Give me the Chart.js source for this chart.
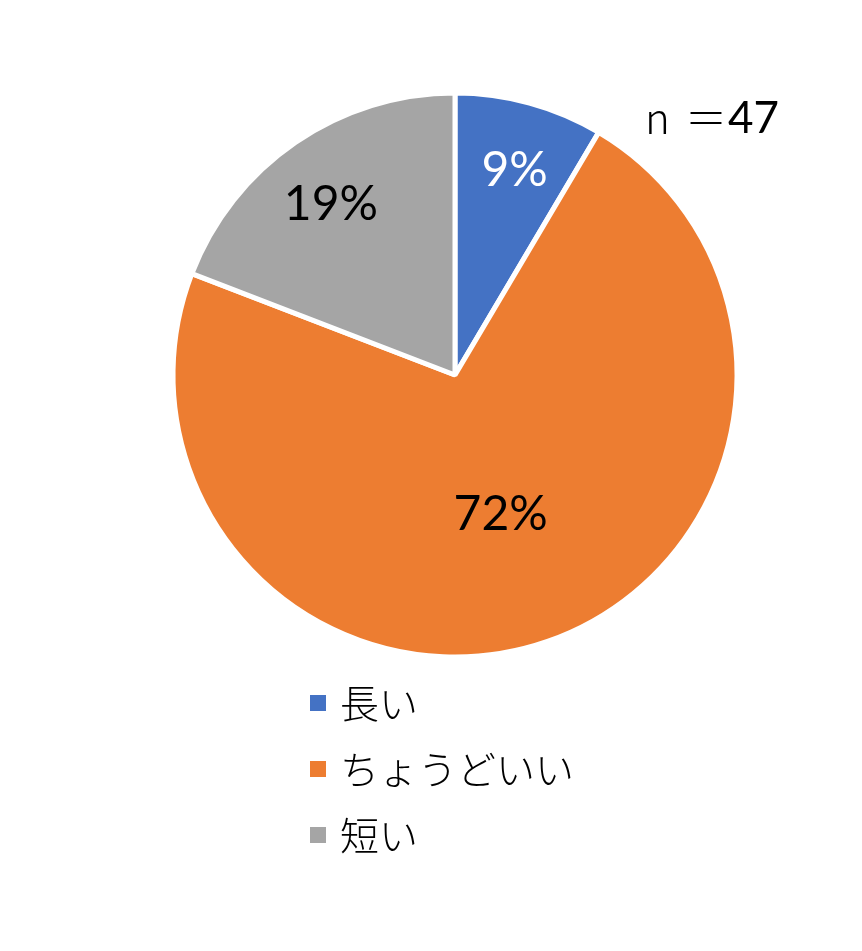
<!DOCTYPE html>
<html>
<head>
<meta charset="utf-8">
<script src="https://cdn.jsdelivr.net/npm/chart.js@4/dist/chart.umd.min.js"></script>
<style>
  body { margin: 0; background: #fff; }
</style>
</head>
<body>
<canvas id="grafico" width="862" height="951"></canvas>
<script>
const categorias = ['長い', 'ちょうどいい', '短い'];
const respuestas = [4, 34, 9];
const colores = ['#4472C4', '#ED7D31', '#A5A5A5'];
const nota = ['n', '＝', '47'];

const total = respuestas.reduce((a, b) => a + b, 0);

// etiquetas de porcentaje dentro de cada sector
const etiquetas = {
  id: 'etiquetas',
  afterDatasetsDraw(chart, args, opts) {
    const ctx = chart.ctx;
    const meta = chart.getDatasetMeta(0);
    ctx.save();
    ctx.font = '48px Lato, "Noto Sans CJK JP", sans-serif';
    ctx.textAlign = 'center';
    ctx.textBaseline = 'middle';
    meta.data.forEach((arc, i) => {
      const p = arc.getProps(['x', 'y', 'startAngle', 'endAngle', 'outerRadius'], true);
      const a = (p.startAngle + p.endAngle) / 2;
      const r = p.outerRadius * opts.radio[i];
      const pct = Math.round(respuestas[i] / total * 100) + '%';
      ctx.fillStyle = opts.color[i];
      ctx.fillText(pct, p.x + Math.cos(a) * r + opts.dx[i], p.y + Math.sin(a) * r + 2);
    });
    // n = 47
    ctx.textAlign = 'left';
    ctx.fillStyle = '#000';
    ctx.font = '300 42px "Noto Sans CJK JP", sans-serif';
    ctx.fillText(nota[0], 645, 118);
    ctx.fillText(nota[1], 685, 118);
    ctx.font = '44px Lato, sans-serif';
    ctx.fillText(nota[2], 728, 119);
    ctx.restore();
  }
};

// leyenda vertical debajo del grafico
const leyenda = {
  id: 'leyenda',
  afterDraw(chart, args, opts) {
    const ctx = chart.ctx;
    ctx.save();
    ctx.font = '300 39px "Noto Sans CJK JP", sans-serif';
    ctx.textBaseline = 'middle';
    ctx.textAlign = 'left';
    categorias.forEach((c, i) => {
      const y = opts.y + i * opts.paso;
      ctx.fillStyle = colores[i];
      ctx.fillRect(opts.x, y - 8, 16, 16);
      ctx.fillStyle = '#000';
      ctx.fillText(c, opts.x + 30, y);
    });
    ctx.restore();
  }
};

new Chart(document.getElementById('grafico').getContext('2d'), {
  type: 'pie',
  data: {
    labels: categorias,
    datasets: [{
      data: respuestas,
      backgroundColor: colores,
      borderColor: '#ffffff',
      borderWidth: 5
    }]
  },
  options: {
    responsive: false,
    animation: false,
    events: [],
    radius: 282,
    layout: { padding: { left: 148, right: 100, top: 75, bottom: 276 } },
    plugins: {
      legend: { display: false },
      tooltip: { enabled: false },
      etiquetas: {
        radio: [0.76, 0.515, 0.74],
        dx: [3, -2, -6],
        color: ['#ffffff', '#000000', '#000000']
      },
      leyenda: { x: 310, y: 703, paso: 66 }
    }
  },
  plugins: [etiquetas, leyenda]
});
</script>
</body>
</html>
